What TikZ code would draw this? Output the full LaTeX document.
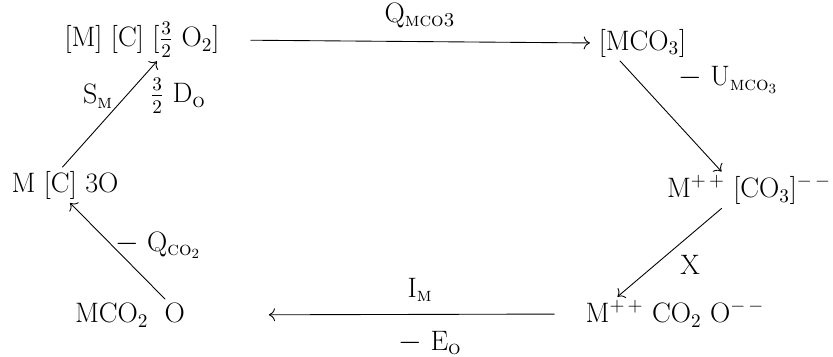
\documentclass[tikz,border=0pt]{standalone}
\usepackage{amsmath,amssymb}
\usepackage{tikz}
\usetikzlibrary{arrows.meta,calc,positioning}
\newcommand{\scsub}[1]{$_{\text{\textsc{#1}}}$}
\tikzset{
  chem/.style={inner sep=2pt, font=\fontsize{16}{19}\selectfont},
  lbl/.style={inner sep=1pt, font=\fontsize{16}{19}\selectfont},
  rxn/.style={-{To[scale=1.3]}, line width=0.5pt},
  every picture/.style={line cap=round, line join=round}
}

\begin{document}
\begin{tikzpicture}[scale=1.0]
  \useasboundingbox (0,0) rectangle (16.66,-7.14);
  \node[chem] (elem) at (2.84,-0.80) {[M] [C] [$\frac{3}{2}$ O$_2$]};
  \node[chem] (mco) at (12.85,-0.86) {[MCO$_3$]};
  \node[chem] (ionA) at (14.98,-3.80) {M$^{+\,+}$ [CO$_3$]$^{-\,-}$};
  \node[chem] (ionB) at (13.50,-6.28) {M$^{+\,+}$ CO$_2$ O$^{-\,-}$};
  \node[chem] (oxid) at (2.60,-6.30) {MCO$_2$\;\ O};
  \node[chem] (gas) at (1.30,-3.70) {M [C] 3O};
  \node[lbl] (qm) at (8.40,-0.30) {Q\scsub{mco3}};
  \node[lbl] (um) at (14.56,-1.60) {$-$ U\scsub{mco$_3$}};
  \node[lbl] (xx) at (13.80,-5.30) {X};
  \node[lbl] (im) at (8.40,-5.80) {I\scsub{m}};
  \node[lbl] (eo) at (8.60,-6.86) {$-$ E\scsub{o}};
  \node[lbl] (qc) at (3.16,-4.90) {$-$ Q\scsub{co$_2$}};
  \node[lbl] (sm) at (1.96,-1.92) {S\scsub{m}};
  \node[lbl] (dd) at (3.56,-1.92) {$\frac{3}{2}$ D\scsub{o}};
  \draw[rxn, shorten <=0.55cm, shorten >=0.1cm] (elem.east) -- (mco.west);
  \draw[rxn] ([xshift=-0.45cm]mco.south) -- ([xshift=-0.55cm]ionA.north);
  \draw[rxn] ([xshift=-0.55cm]ionA.south) -- ([xshift=-1.15cm]ionB.north);
  \draw[rxn, shorten <=0.55cm, shorten >=1.6cm] (ionB.west) -- (oxid.east);
  \draw[rxn] ([xshift=0.7cm]oxid.north) -- ([xshift=0.1cm]gas.south);
  \draw[rxn] ([xshift=-0.05cm]gas.north) -- ([xshift=0.3cm]elem.south);
\end{tikzpicture}
\end{document}
